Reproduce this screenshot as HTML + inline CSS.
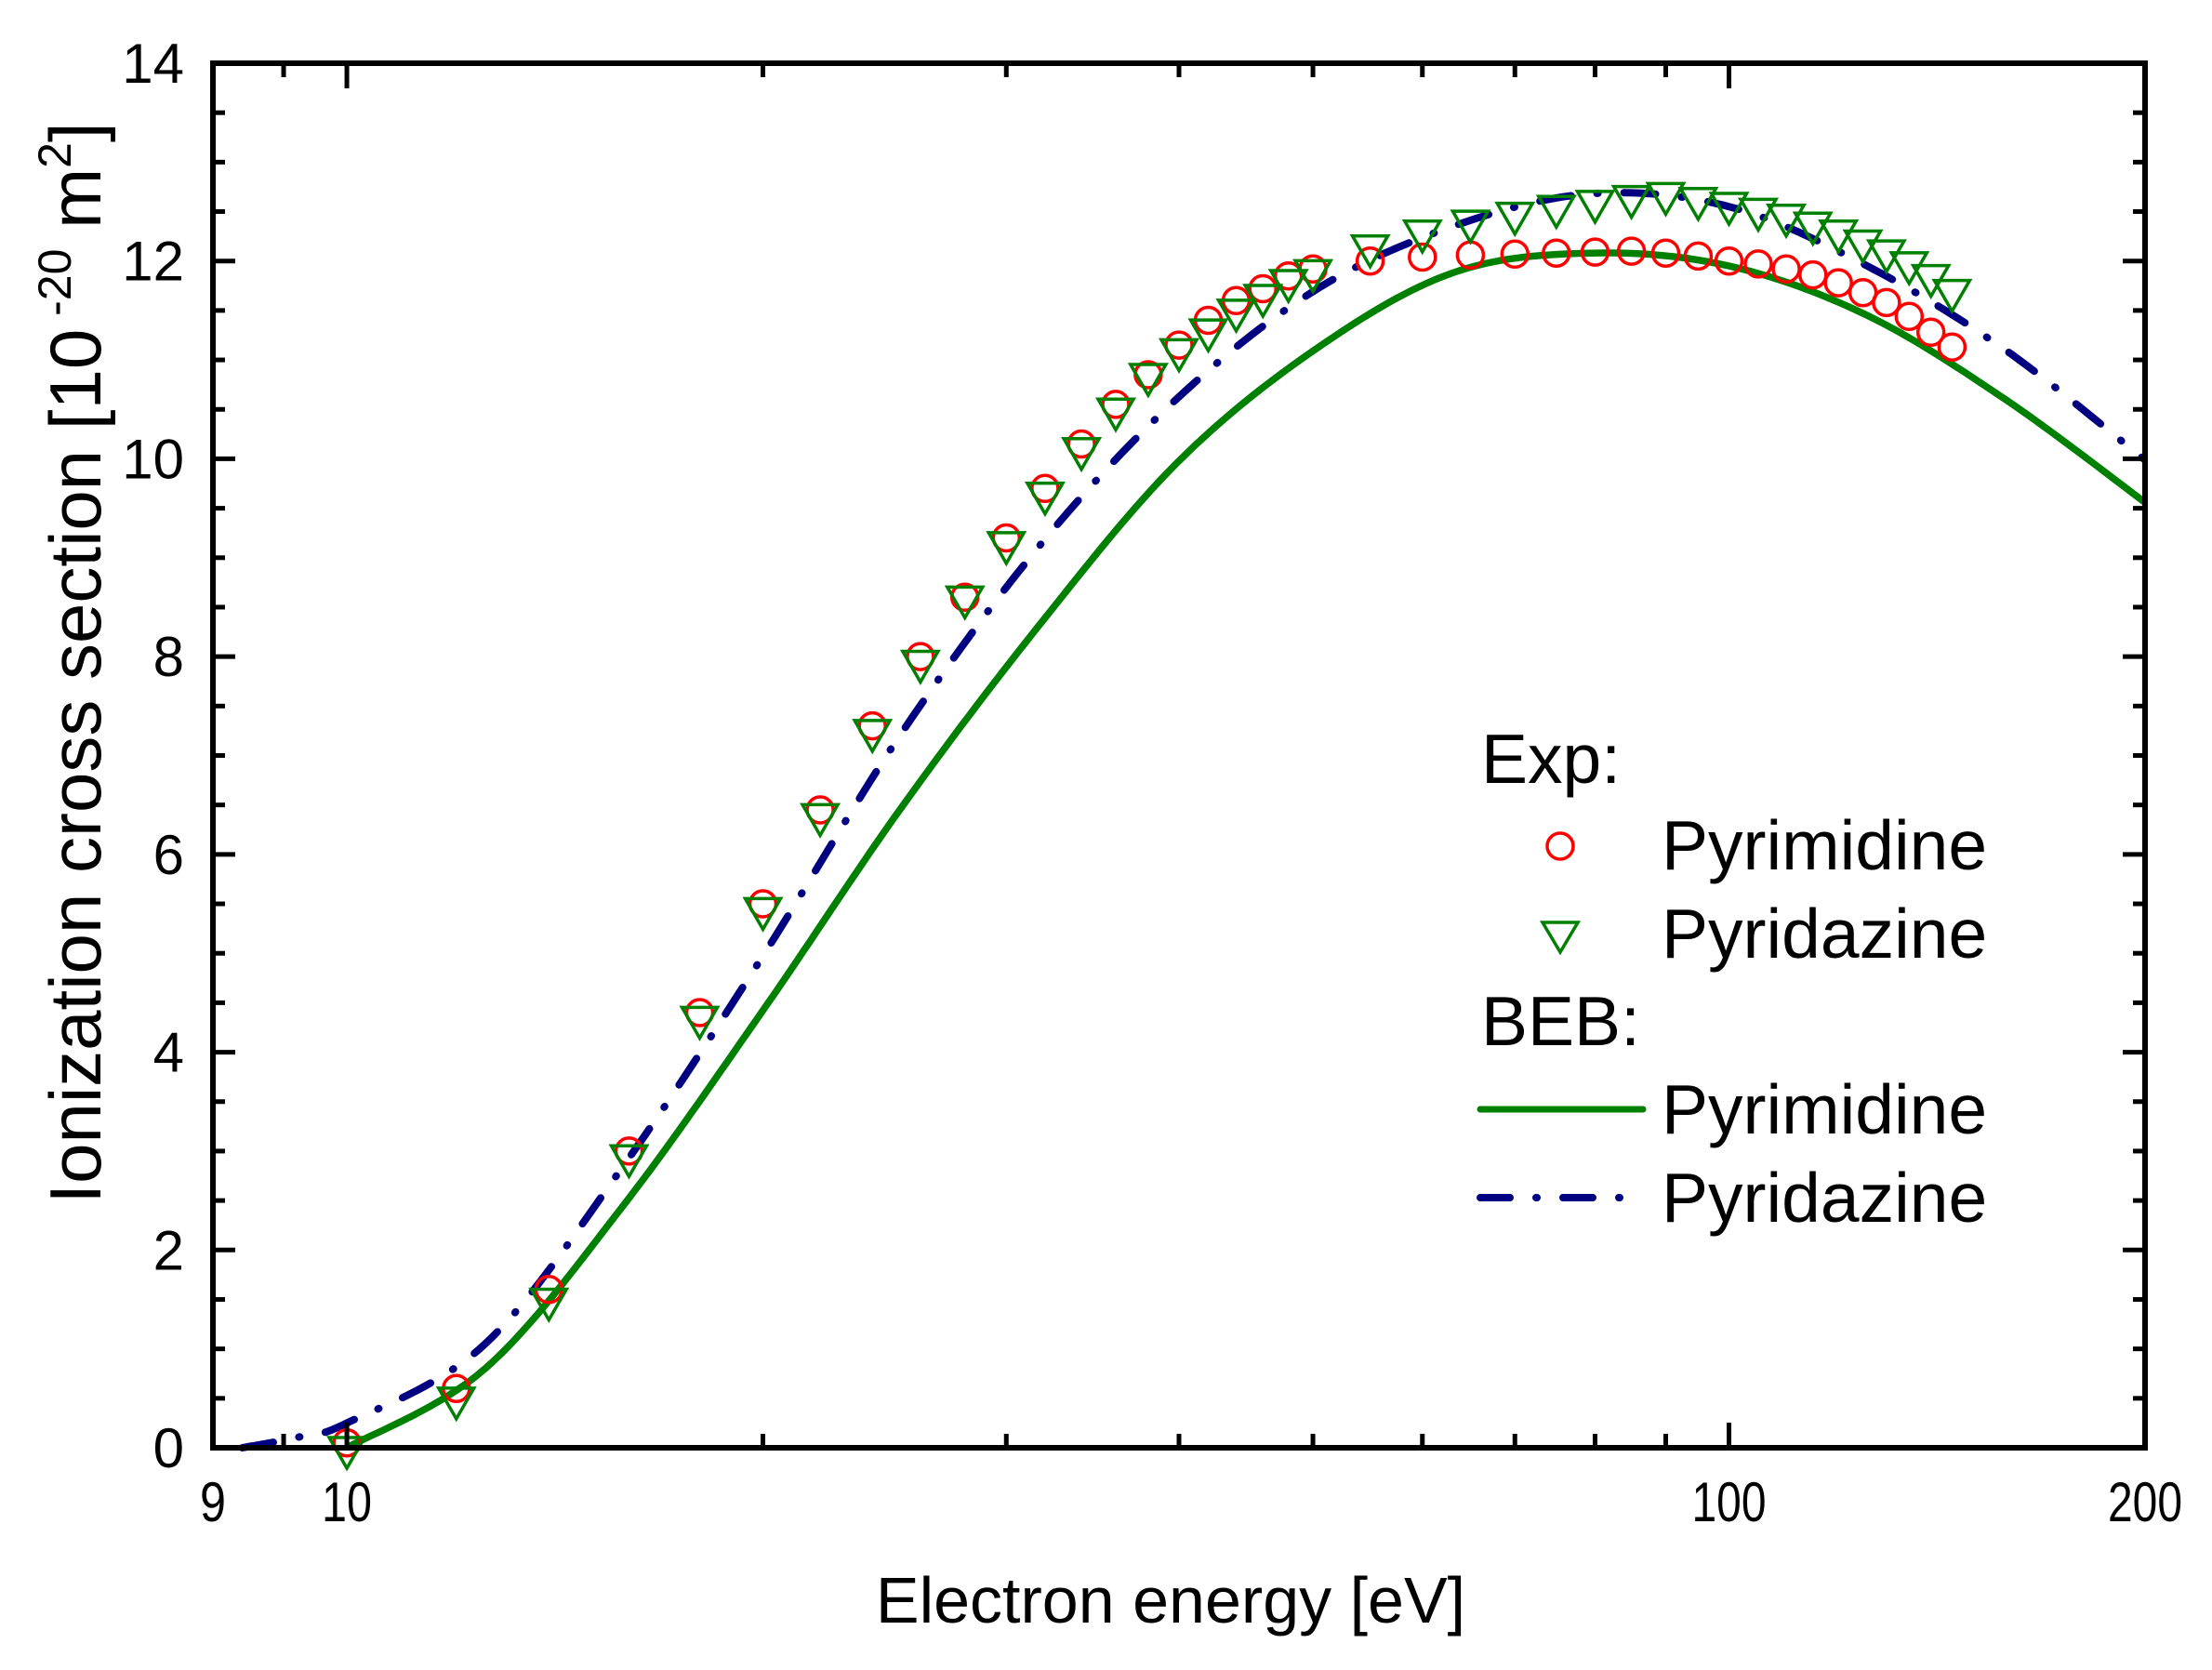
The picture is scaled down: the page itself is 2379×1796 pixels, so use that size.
<!DOCTYPE html>
<html><head><meta charset="utf-8"><style>
html,body{margin:0;padding:0;background:#fff;}
svg{display:block;font-family:"Liberation Sans",Arial,sans-serif;}
</style></head><body>
<svg id="s" width="2379" height="1796" viewBox="0 0 2379 1796" xmlns="http://www.w3.org/2000/svg">
<rect width="2379" height="1796" fill="#fff"/>
<g id="g"></g>
<text x="1593" y="842" font-size="75">Exp:</text>
<circle cx="1678" cy="910" r="14" fill="none" stroke="#ff0000" stroke-width="3.5"/>
<polygon points="1659,992 1697,992 1678,1024" fill="none" stroke="#008000" stroke-width="3.5"/>
<text x="1787" y="935" font-size="75">Pyrimidine</text>
<text x="1787" y="1030" font-size="75">Pyridazine</text>
<text x="1593" y="1124" font-size="75">BEB:</text>
<line x1="1592" y1="1193" x2="1767" y2="1193" stroke="#008000" stroke-width="7" stroke-linecap="round"/>
<line x1="1592" y1="1288" x2="1770" y2="1288" stroke="#000080" stroke-width="8" stroke-linecap="round" stroke-dasharray="32 28 1 28"/>
<text x="1787" y="1219" font-size="75">Pyrimidine</text>
<text x="1787" y="1314" font-size="75">Pyridazine</text>
<text x="1259" y="1745" font-size="70" text-anchor="middle">Electron energy [eV]</text>
<text transform="translate(108,713) rotate(-90)" font-size="78" text-anchor="middle">Ionization cross section [10<tspan dy="-32" font-size="50"> -20</tspan><tspan dy="32"> m</tspan><tspan dy="-32" font-size="50">2</tspan><tspan dy="32">]</tspan></text>
</svg>
<script>
var L=229,R=2307,T=68,B=1557;
var d0=Math.log10(8),d1=Math.log10(200);
function X(e){return L+(Math.log10(e)-d0)/(d1-d0)*(R-L);}
function Y(v){return B-v*(B-T)/14;}
var h='';
function ln(x1,y1,x2,y2,c,w,ex){h+='<line x1="'+x1+'" y1="'+y1+'" x2="'+x2+'" y2="'+y2+'" stroke="'+c+'" stroke-width="'+w+'" '+(ex||'')+'/>';}
function curve(pts,c,w,ex){
 var p=[];
 for(var i=0;i<pts.length-1;i++){
  var a=pts[i],b=pts[i+1];
  for(var k=0;k<20;k++){var t=k/20;
   var P0=pts[Math.max(0,i-1)],P3=pts[Math.min(pts.length-1,i+2)];
   function cr(j){var p0=P0[j],p1=a[j],p2=b[j],p3=P3[j];return 0.5*((2*p1)+(-p0+p2)*t+(2*p0-5*p1+4*p2-p3)*t*t+(-p0+3*p1-3*p2+p3)*t*t*t);}
   p.push([cr(0),cr(1)]);}
 }
 p.push(pts[pts.length-1]);
 var s='M'+p.map(function(q){return q[0].toFixed(1)+','+q[1].toFixed(1);}).join(' L');
 h+='<path d="'+s+'" fill="none" stroke="'+c+'" stroke-width="'+w+'" stroke-linejoin="round" '+(ex||'')+'/>';
}
function conv(a){return a.map(function(q){return [X(q[0]),Y(q[1])];});}
var green=[[10,0],[12.59,0.8],[15.85,2.45],[19.95,4.4],[25.12,6.45],[31.62,8.3],[39.81,9.95],[50.12,11.1],[63.1,11.88],[79.4,12.08],[100,11.95],[125.9,11.45],[158.5,10.6],[199.5,9.57],[200,9.55]];
var blue=[[8.4,0],[9.17,0.1],[10,0.25],[12.59,1.05],[15.85,2.85],[19.95,4.95],[25.12,7.2],[31.62,9.1],[39.81,10.6],[50.12,11.7],[63.1,12.35],[79.4,12.68],[100,12.55],[125.9,11.95],[158.5,11.1],[199.5,10.0],[200,9.99]];
var circ=[[10,0.05],[12,0.6],[14,1.6],[16,3.0],[18,4.4],[20,5.5],[22,6.45],[24,7.3],[26,8.0],[28,8.6],[30,9.2],[32,9.7],[34,10.15],[36,10.55],[38,10.85],[40,11.15],[42,11.4],[44,11.6],[46,11.72],[48,11.85],[50,11.92],[55,12.0],[60,12.04],[65,12.06],[70,12.07],[75,12.08],[80,12.09],[85,12.1],[90,12.08],[95,12.05],[100,12.0],[105,11.97],[110,11.92],[115,11.86],[120,11.78],[125,11.68],[130,11.58],[135,11.44],[140,11.28],[145,11.13]];
var tri=[[10,0.0],[12,0.5],[14,1.5],[16,2.95],[18,4.35],[20,5.45],[22,6.4],[24,7.25],[26,7.95],[28,8.6],[30,9.15],[32,9.65],[34,10.1],[36,10.5],[38,10.85],[40,11.1],[42,11.3],[44,11.5],[46,11.65],[48,11.8],[50,11.9],[55,12.15],[60,12.3],[65,12.4],[70,12.48],[75,12.55],[80,12.6],[85,12.65],[90,12.68],[95,12.63],[100,12.58],[105,12.52],[110,12.46],[115,12.38],[120,12.3],[125,12.2],[130,12.1],[135,11.98],[140,11.85],[145,11.7]];
h+='<svg x="'+L+'" y="'+T+'" width="'+(R-L)+'" height="'+(B-T+10)+'" viewBox="'+L+' '+T+' '+(R-L)+' '+(B-T+10)+'" overflow="hidden">';
curve(conv(green),'#008000',7.5);
curve(conv(blue),'#000080',8,'stroke-linecap="round" stroke-dasharray="34 28 1 28"');
h+='</svg>';
circ.forEach(function(q){h+='<circle cx="'+X(q[0]).toFixed(1)+'" cy="'+Y(q[1]).toFixed(1)+'" r="14" fill="none" stroke="#ff0000" stroke-width="3.5"/>';});
tri.forEach(function(q){var x=X(q[0]),y=Y(q[1]);h+='<polygon points="'+(x-19)+','+(y-11)+' '+(x+19)+','+(y-11)+' '+x+','+(y+22)+'" fill="none" stroke="#008000" stroke-width="3.5"/>';});
h+='<rect x="'+L+'" y="'+T+'" width="'+(R-L)+'" height="'+(B-T)+'" fill="none" stroke="#000" stroke-width="6"/>';
for(var v=0;v<=14.001;v+=0.5){var y=Y(v),maj=Math.abs(v-Math.round(v/2)*2)<0.01,len=maj?24:13;
 ln(L,y,L+len,y,'#000',5);ln(R,y,R-len,y,'#000',5);
 if(maj)h+='<text x="198" y="'+(y+21)+'" font-size="60" text-anchor="end">'+Math.round(v)+'</text>';}
var xt=[9,20,30,40,50,60,70,80,90,200],xm=[10,100];
xt.forEach(function(e){var x=X(e);ln(x,B,x,B-15,'#000',5);ln(x,T,x,T+15,'#000',5);});
xm.forEach(function(e){var x=X(e);ln(x,B,x,B-27,'#000',5);ln(x,T,x,T+27,'#000',5);});
var xl=[[229,'9',28],[X(10),'10',54],[X(100),'100',80],[X(200),'200',80]];
xl.forEach(function(q){h+='<text x="'+q[0]+'" y="1636" font-size="60" text-anchor="middle" textLength="'+q[2]+'" lengthAdjust="spacingAndGlyphs">'+q[1]+'</text>';});
document.getElementById('g').innerHTML=h;
</script>
</body></html>
